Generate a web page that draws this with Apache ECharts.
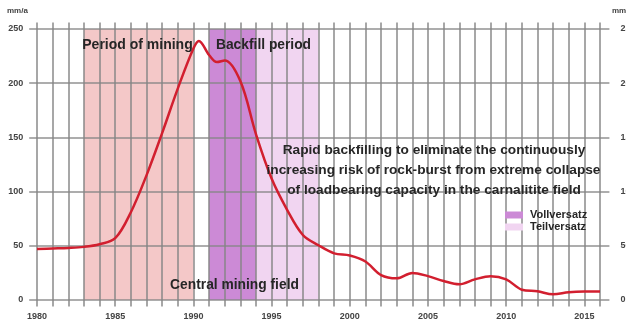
<!DOCTYPE html>
<html>
<head>
<meta charset="utf-8">
<script src="https://cdn.jsdelivr.net/npm/echarts@6/dist/echarts.min.js"></script>
<style>
  html, body { margin: 0; padding: 0; background: #fff; }
  #chart { width: 626px; height: 329px; }
</style>
</head>
<body>
<div id="chart"></div>
<script>
// Subsidence rate (mm/a) over time
const years = [1980, 1981, 1982, 1983, 1984, 1985, 1986, 1987, 1988, 1989, 1990, 1990.35, 1991, 1991.5, 1992, 1993, 1994, 1995, 1996, 1997, 1998, 1999, 2000, 2001, 2002, 2003, 2004, 2005, 2006, 2007, 2008, 2009, 2010, 2011, 2012, 2013, 2014, 2015, 2016];
const rates = [47, 47.5, 48, 49, 51.5, 57, 81, 115, 154, 195, 232, 239, 226, 219.5, 221, 202, 153, 112, 83, 60, 50.5, 43, 41, 35.5, 23, 20, 25, 22, 17.5, 14.5, 19, 22, 19, 9.5, 8, 5.2, 7.2, 7.8, 7.8];

// Axis ticks
const xTicks = [1980, 1985, 1990, 1995, 2000, 2005, 2010, 2015];
const yTicks = [0, 50, 100, 150, 200, 250];
const gridYears = [];
for (let y = 1980; y <= 2016; y++) gridYears.push(y);

// Shaded periods
const miningPeriod = [1983, 1990];
const fullBackfill = [1991, 1994];
const partBackfill = [1994, 1998];
const colMining = '#f4c8c8';
const colVoll = '#cc8ad6';
const colTeil = '#f1d5f1';

const legendItems = ['Vollversatz', 'Teilversatz'];
const noteLines = [
  'Rapid backfilling to eliminate the continuously',
  'increasing risk of rock-burst from extreme collapse',
  'of loadbearing capacity in the carnalitite field'
];

const FONT = '"Liberation Sans", Arial, sans-serif';
const TXT = '#262626';
const GRID = '#858585';

const chart = echarts.init(document.getElementById('chart'));

const gridLines = yTicks.map(v => ({ yAxis: v }))
  .concat(gridYears.map(y => ({ xAxis: y })));

const axisLabelStyle = { fontSize: 9, fontWeight: 'bold', color: '#444', fontFamily: FONT };

function label(text, x, y, size, align) {
  return {
    type: 'text', x: x, y: y, z: 100,
    style: { text: text, font: 'bold ' + size + 'px ' + FONT, fill: TXT, align: align || 'center', verticalAlign: 'middle' }
  };
}

const option = {
  backgroundColor: '#fff',
  animation: false,
  grid: { left: 29.2, right: 16.6, top: 22.5, bottom: 22.5, containLabel: false, outerBoundsMode: 'none' },
  xAxis: {
    type: 'value', min: 1979.5, max: 2016.6,
    axisLine: { show: false }, axisTick: { show: false }, splitLine: { show: false },
    axisLabel: Object.assign({ customValues: xTicks, margin: 6, formatter: v => String(v) }, axisLabelStyle)
  },
  yAxis: [
    {
      type: 'value', min: -6, max: 256, position: 'left',
      axisLine: { show: false }, axisTick: { show: false }, splitLine: { show: false },
      axisLabel: Object.assign({ customValues: yTicks, margin: 6 }, axisLabelStyle)
    },
    {
      type: 'value', min: -6, max: 256, position: 'right',
      axisLine: { show: false }, axisTick: { show: false }, splitLine: { show: false },
      axisLabel: Object.assign({ customValues: yTicks, margin: 11 }, axisLabelStyle)
    }
  ],
  series: [
    {
      name: 'bands', type: 'line', data: [], z: 1, silent: true,
      markArea: {
        silent: true,
        data: [
          [{ xAxis: miningPeriod[0], yAxis: 0, itemStyle: { color: colMining } }, { xAxis: miningPeriod[1], yAxis: 250 }],
          [{ xAxis: fullBackfill[0], yAxis: 0, itemStyle: { color: colVoll } }, { xAxis: fullBackfill[1], yAxis: 250 }],
          [{ xAxis: partBackfill[0], yAxis: 0, itemStyle: { color: colTeil } }, { xAxis: partBackfill[1], yAxis: 250 }]
        ]
      }
    },
    {
      name: 'grid', type: 'line', data: [], z: 2, silent: true,
      markLine: {
        silent: true, symbol: 'none', animation: false,
        label: { show: false },
        lineStyle: { color: GRID, width: 1.6, type: 'solid', opacity: 0.9 },
        data: gridLines
      }
    },
    {
      name: 'rate', type: 'line', z: 5,
      data: years.map((y, i) => [y, rates[i]]),
      smooth: 0.35, showSymbol: false,
      lineStyle: { color: '#d21f2f', width: 2.5 }
    }
  ],
  graphic: [
    { type: 'text', left: 7, top: 7, z: 100, style: { text: 'mm/a', font: 'bold 8px ' + FONT, fill: '#444' } },
    { type: 'text', left: 612, top: 7, z: 100, style: { text: 'mm/a', font: 'bold 8px ' + FONT, fill: '#444' } },
    label('Period of mining', 137.5, 45, 14),
    label('Backfill period', 263.5, 45, 13.8),
    label('Central mining field', 234.5, 285, 13.8),
    label(noteLines[0], 434, 150, 13.7),
    label(noteLines[1], 433.5, 170, 13.7),
    label(noteLines[2], 434, 190, 13.7),
    { type: 'rect', z: 100, shape: { x: 505, y: 211.5, width: 18, height: 7 }, style: { fill: colVoll } },
    { type: 'rect', z: 100, shape: { x: 505, y: 223.5, width: 18, height: 7 }, style: { fill: colTeil } },
    label(legendItems[0], 530, 215, 11, 'left'),
    label(legendItems[1], 530, 227, 11, 'left')
  ]
};

chart.setOption(option);
</script>
</body>
</html>
